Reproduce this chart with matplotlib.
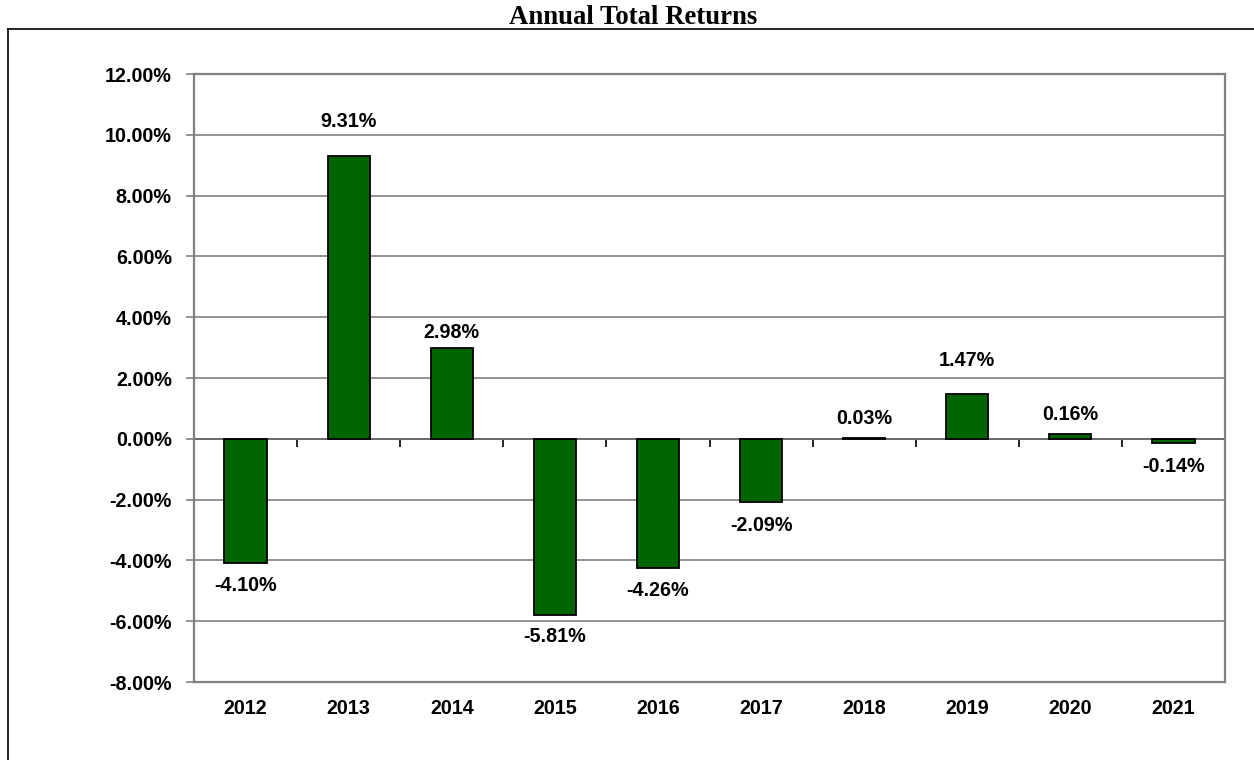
import matplotlib
matplotlib.use('Agg')
import matplotlib.pyplot as plt
import matplotlib.ticker as ticker
from matplotlib.lines import Line2D

# Data
years = ['2012', '2013', '2014', '2015', '2016', '2017', '2018', '2019', '2020', '2021']
returns = [-4.10, 9.31, 2.98, -5.81, -4.26, -2.09, 0.03, 1.47, 0.16, -0.14]

# Label distance from the bar end (points), as placed in the original
label_offsets = [16, 25, 11, 15, 16, 17, 14, 24, 14, 17]

y_ticks = [-8, -6, -4, -2, 0, 2, 4, 6, 8, 10, 12]

plt.rcParams['font.family'] = ['Liberation Sans', 'DejaVu Sans']
plt.rcParams['font.weight'] = 'bold'

fig = plt.figure(figsize=(12.54, 7.6), dpi=100)
ax = fig.add_axes([194 / 1254, 1 - 682 / 760, (1225 - 194) / 1254, (682 - 74) / 760])

x = list(range(len(years)))
ax.bar(x, returns, width=0.41, color='#006400', edgecolor='black', linewidth=1.3, zorder=3)

ax.set_xlim(-0.5, len(years) - 0.5)
ax.set_ylim(-8, 12)

# Gridlines
ax.set_yticks(y_ticks)
ax.yaxis.set_major_formatter(ticker.FuncFormatter(lambda v, p: f'{v:.2f}%'))
ax.grid(axis='y', color='#808080', linewidth=1.2, zorder=0)
ax.tick_params(axis='y', length=6, width=1.2, color='#808080', pad=10, labelsize=14.2)

ax.set_xticks(x)
ax.set_xticklabels(years)
ax.tick_params(axis='x', length=0, pad=12, labelsize=14.2)

for side in ['left', 'right', 'top', 'bottom']:
    ax.spines[side].set_color('#808080')
    ax.spines[side].set_linewidth(1.6)
    ax.spines[side].set_zorder(4)

# Category axis crossing at zero with boundary ticks
zero_frac = (0 - y_ticks[0]) / (y_ticks[-1] - y_ticks[0])
sec = ax.secondary_xaxis(zero_frac)
sec.set_xticks([i + 0.5 for i in x[:-1]])
sec.tick_params(axis='x', length=6, width=1.2, color='black', direction='out', labelbottom=False)
sec.spines['bottom'].set_color('black')
sec.spines['bottom'].set_linewidth(1.4)

# Data labels
for xi, val, off in zip(x, returns, label_offsets):
    dy = off if val >= 0 else -off
    ax.annotate(f'{val:.2f}%', (xi, val), xytext=(0, dy), textcoords='offset points',
                ha='center', va='center', fontsize=14.2, fontweight='bold', zorder=5)

# Outer frame and title
fig.add_artist(Line2D([8 / 1254, 8 / 1254], [0, 1 - 29 / 760], color='black', linewidth=1.2))
fig.add_artist(Line2D([8 / 1254, 1], [1 - 29 / 760, 1 - 29 / 760], color='black', linewidth=1.2))
fig.text(633 / 1254, 1 - 17 / 760, 'Annual Total Returns', ha='center', va='center',
         fontsize=19.3, fontweight='bold', family=['Liberation Serif', 'DejaVu Serif'])

fig.savefig('out.png', dpi=100)
